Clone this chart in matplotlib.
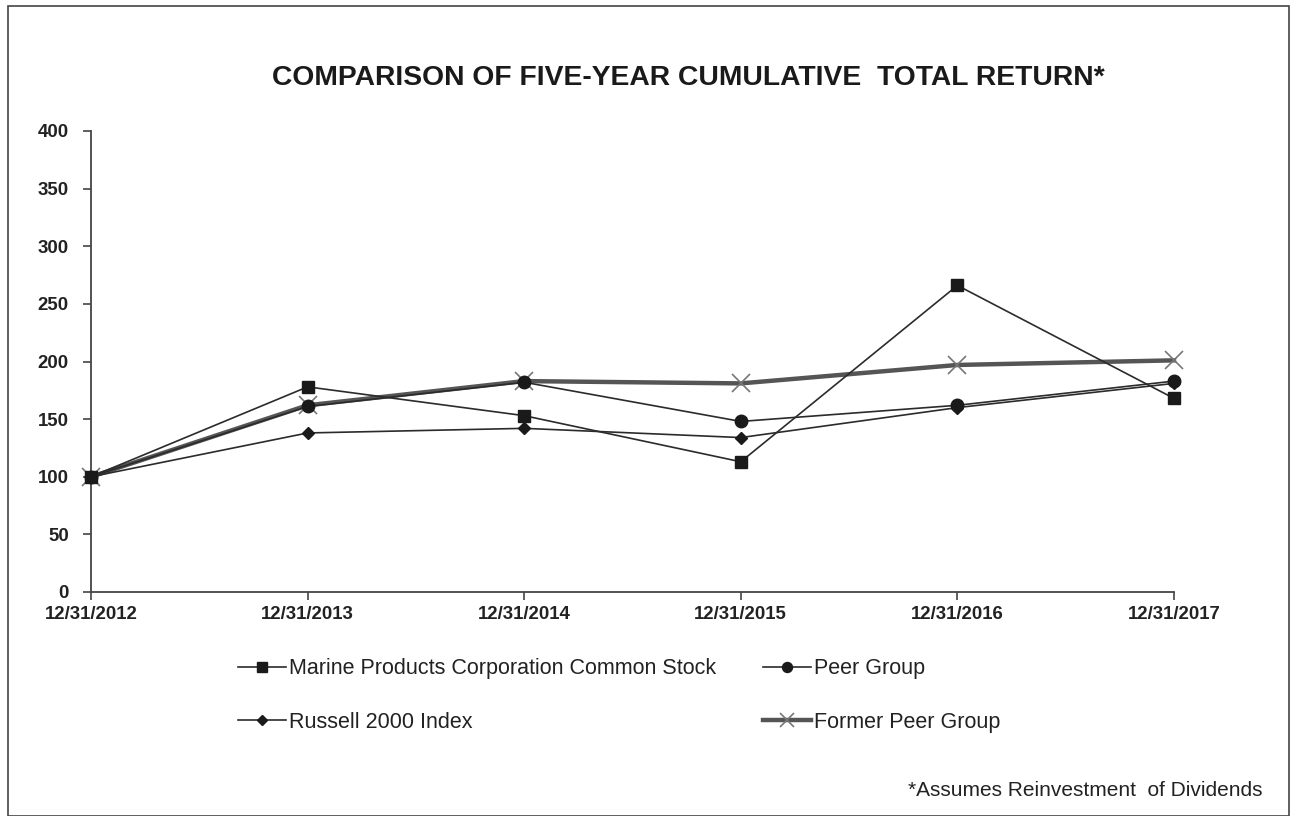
import numpy as np
import matplotlib.pyplot as plt
from matplotlib.patches import Rectangle

plt.rcParams['font.family'] = ['Liberation Sans', 'DejaVu Sans']

dates = ["12/31/2012", "12/31/2013", "12/31/2014", "12/31/2015", "12/31/2016", "12/31/2017"]
marine = [100, 178, 153, 113, 266, 168]
peer = [100, 161, 182, 148, 162, 183]
russell = [100, 138, 142, 134, 160, 181]
former = [100, 162, 183, 181, 197, 201]

W, H = 1291, 816
fig = plt.figure(figsize=(W / 100, H / 100), dpi=100)
ax = fig.add_axes([91 / W, 1 - 592 / H, (1174 - 91) / W, (592 - 131) / H])

x = np.arange(len(dates))
ink = "#2b2b2b"
l1, = ax.plot(x, marine, color=ink, lw=1.2, marker="s", ms=9, mfc="#1a1a1a", mec="#1a1a1a",
              label="Marine Products Corporation Common Stock", zorder=3, clip_on=False)
l3, = ax.plot(x, russell, color=ink, lw=1.2, marker="D", ms=6, mfc="#1a1a1a", mec="#1a1a1a",
              label="Russell 2000 Index", zorder=3, clip_on=False)
l2, = ax.plot(x, peer, color=ink, lw=1.2, marker="o", ms=9, mfc="#1a1a1a", mec="#1a1a1a",
              label="Peer Group", zorder=3, clip_on=False)
l4, = ax.plot(x, former, color="#555555", lw=3.2, marker="x", ms=13, mew=1.2, mec="#777777",
              label="Former Peer Group", zorder=2, clip_on=False)

ax.set_xlim(0, 5)
ax.set_ylim(0, 400)
ax.set_yticks(np.arange(0, 401, 50))
ax.set_xticks(x)
ax.set_xticklabels(dates)
for s in ["top", "right"]:
    ax.spines[s].set_visible(False)
for s in ["left", "bottom"]:
    ax.spines[s].set_color("#444444")
    ax.spines[s].set_linewidth(1.3)
ax.tick_params(axis="y", direction="out", length=6, width=1.2, color="#444444",
               labelsize=13.4, labelcolor="#222222", pad=10)
ax.tick_params(axis="x", direction="out", length=6, width=1.2, color="#444444",
               labelsize=13.4, labelcolor="#222222", pad=4)
for t in ax.get_xticklabels() + ax.get_yticklabels():
    t.set_fontweight("bold")

fig.text(688 / W, 1 - 78 / H, "COMPARISON OF FIVE-YEAR CUMULATIVE  TOTAL RETURN*",
         ha="center", va="center", fontsize=20.3, fontweight="bold", color="#1a1a1a")

leg = fig.legend(handles=[l1, l3, l2, l4], ncol=2, loc="upper left",
                 bbox_to_anchor=(219 / W, 1 - 639 / H), frameon=False,
                 fontsize=15.5, handlelength=2.2, handletextpad=0.15,
                 columnspacing=2.2, labelspacing=1.5, markerscale=0.8)
for t in leg.get_texts():
    t.set_color("#222222")

fig.text(1262 / W, 1 - 790 / H, "*Assumes Reinvestment  of Dividends",
         ha="right", va="center", fontsize=15, color="#222222")

fig.patches.append(Rectangle((8 / W, 0), (1289 - 8) / W, 1 - 6 / H, transform=fig.transFigure,
                             fill=False, edgecolor="#444444", lw=1.2))

fig.savefig("out.png", dpi=100)
